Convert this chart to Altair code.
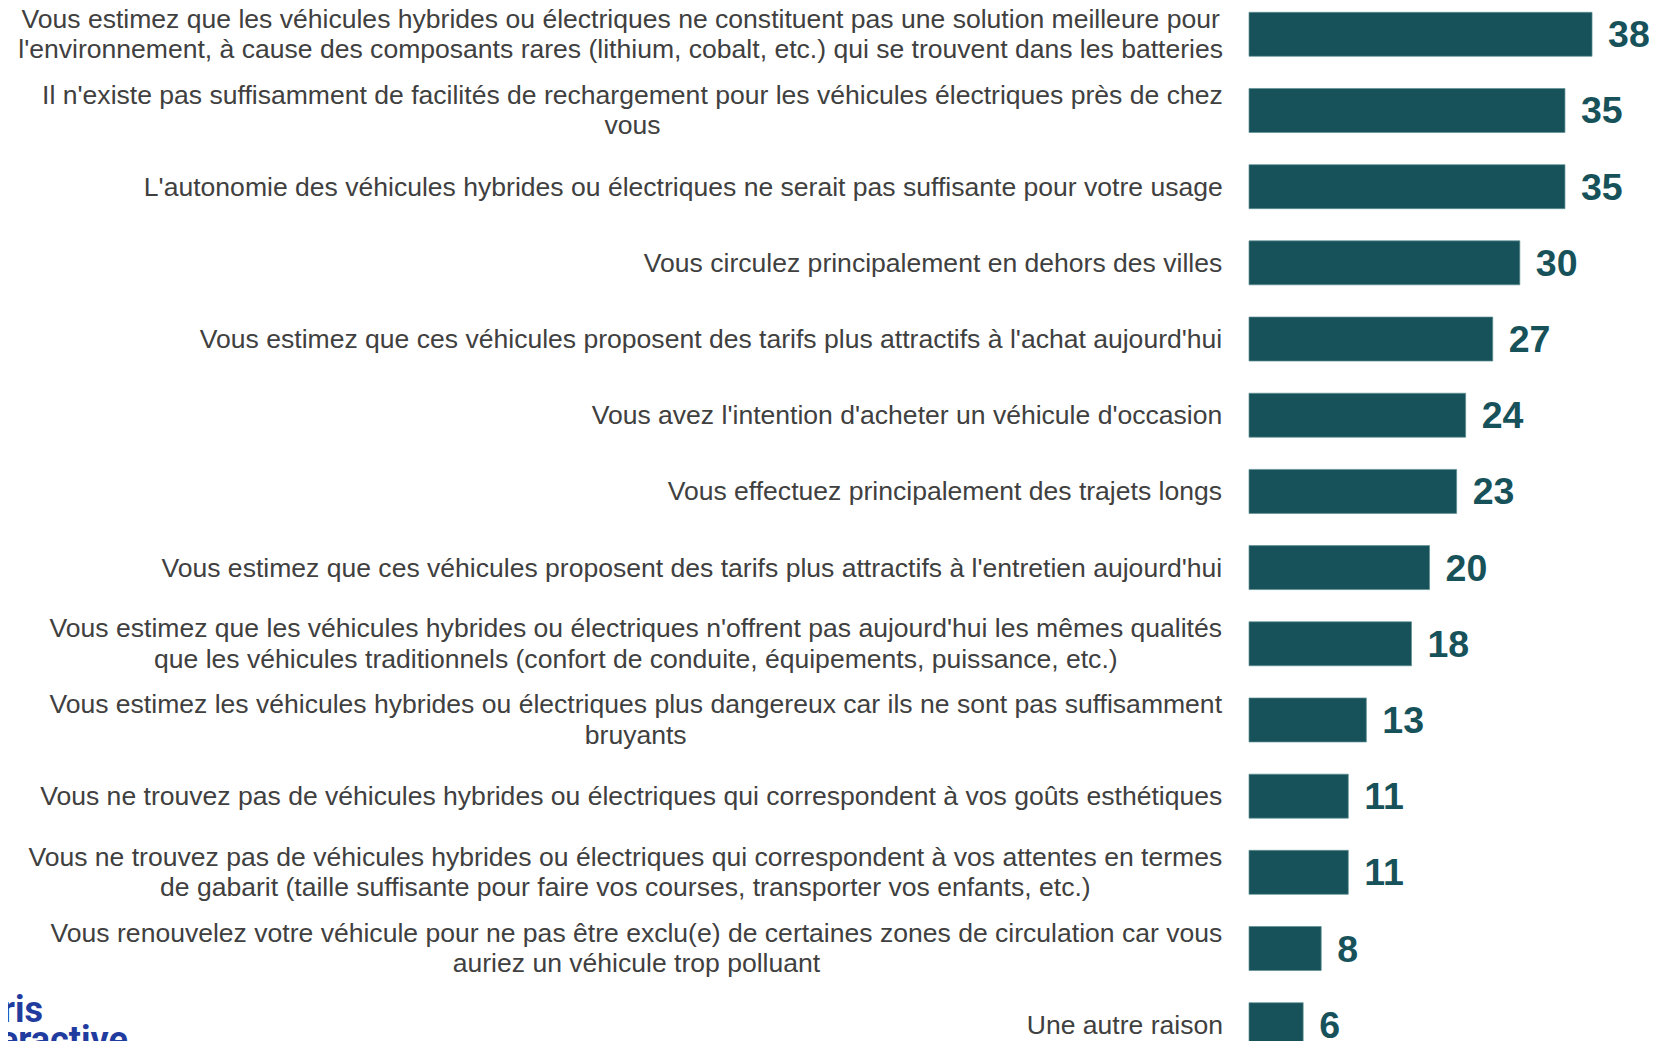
import altair as alt
import pandas as pd

# ---------------- data ----------------
categories = [
    "Vous estimez que les véhicules hybrides ou électriques ne constituent pas une solution meilleure pour\nl'environnement, à cause des composants rares (lithium, cobalt, etc.) qui se trouvent dans les batteries",
    "Il n'existe pas suffisamment de facilités de rechargement pour les véhicules électriques près de chez\nvous",
    "L'autonomie des véhicules hybrides ou électriques ne serait pas suffisante pour votre usage",
    "Vous circulez principalement en dehors des villes",
    "Vous estimez que ces véhicules proposent des tarifs plus attractifs à l'achat aujourd'hui",
    "Vous avez l'intention d'acheter un véhicule d'occasion",
    "Vous effectuez principalement des trajets longs",
    "Vous estimez que ces véhicules proposent des tarifs plus attractifs à l'entretien aujourd'hui",
    "Vous estimez que les véhicules hybrides ou électriques n'offrent pas aujourd'hui les mêmes qualités\nque les véhicules traditionnels (confort de conduite, équipements, puissance, etc.)",
    "Vous estimez les véhicules hybrides ou électriques plus dangereux car ils ne sont pas suffisamment\nbruyants",
    "Vous ne trouvez pas de véhicules hybrides ou électriques qui correspondent à vos goûts esthétiques",
    "Vous ne trouvez pas de véhicules hybrides ou électriques qui correspondent à vos attentes en termes\nde gabarit (taille suffisante pour faire vos courses, transporter vos enfants, etc.)",
    "Vous renouvelez votre véhicule pour ne pas être exclu(e) de certaines zones de circulation car vous\nauriez un véhicule trop polluant",
    "Une autre raison",
]
values = [38, 35, 35, 30, 27, 24, 23, 20, 18, 13, 11, 11, 8, 6]
logo_lines = ["Harris", "Interactive"]

# ---------------- layout constants ----------------
PAD_L = 1241           # svg is 1641 wide -> page exactly 1657 wide (no overflow)
PLOT_W = 400
PLOT_H = 1043
X_MAX = 44.31
PPU = PLOT_W / X_MAX
LABEL_FS = 26.55
LINE_H = 30.5
LABEL_GAP = 26
BAR_COLOR = "#17525A"

# Arial / Liberation Sans advance widths (per 1000 em) used to centre multi-line labels
_W = {
    "a": 556, "b": 556, "c": 500, "d": 556, "e": 556, "f": 278, "g": 556, "h": 556,
    "i": 222, "j": 222, "k": 500, "l": 222, "m": 833, "n": 556, "o": 556, "p": 556,
    "q": 556, "r": 333, "s": 500, "t": 278, "u": 556, "v": 500, "w": 722, "x": 500,
    "y": 500, "z": 500, "é": 556, "è": 556, "ê": 556, "à": 556, "â": 556, "û": 556,
    "ù": 556, "ô": 556, "î": 278, "ç": 500, " ": 278, "'": 191, "(": 333, ")": 333,
    ",": 278, ".": 278, "-": 333, "V": 667, "I": 278, "L": 556, "U": 722,
}


def text_width(s, fs=LABEL_FS):
    return max(sum(_W.get(ch, 556) for ch in line) for line in s.split("\n")) * fs / 1000


df = pd.DataFrame({"cat": categories, "value": values})
df["label_x"] = [-(LABEL_GAP + text_width(c) / 2) / PPU for c in categories]
df["nlines"] = [c.count("\n") + 1 for c in categories]

xs = alt.Scale(domain=[0, X_MAX], nice=False, zero=True)
ys = alt.Scale(paddingInner=0.4226, paddingOuter=0.0564)

base = alt.Chart(df).encode(
    y=alt.Y("cat:N", sort=None, axis=None, scale=ys)
)

bars = base.mark_bar(color=BAR_COLOR, stroke="#5f8f94", strokeWidth=0.7).encode(
    x=alt.X("value:Q", axis=None, scale=xs)
)

vals = base.mark_text(
    align="left", baseline="middle", dx=16, dy=2,
    fontSize=37.5, fontWeight="bold", font="Liberation Sans", color=BAR_COLOR,
).encode(
    x=alt.X("value:Q", axis=None, scale=xs),
    text=alt.Text("value:Q", format="d"),
)

label_props = dict(
    align="center", baseline="middle", font="Liberation Sans",
    fontSize=LABEL_FS, lineHeight=LINE_H, lineBreak="\n", color="#404040",
)
labels1 = base.mark_text(dy=1, **label_props).encode(
    x=alt.X("label_x:Q", axis=None, scale=xs),
    text="cat:N",
).transform_filter("datum.nlines == 1")

labels2 = base.mark_text(dy=-LINE_H / 2 + 0.5, **label_props).encode(
    x=alt.X("label_x:Q", axis=None, scale=xs),
    text="cat:N",
).transform_filter("datum.nlines == 2")

logo_props = dict(
    align="right", baseline="alphabetic", font="Roboto", fontWeight="bold",
    fontSize=36, color="#1F3C9E",
)
logo1 = alt.Chart(pd.DataFrame({"t": [logo_lines[0]]})).mark_text(**logo_props).encode(
    x=alt.value(-1206), y=alt.value(1014), text="t:N"
)
logo2 = alt.Chart(pd.DataFrame({"t": [logo_lines[1]]})).mark_text(**logo_props).encode(
    x=alt.value(-1121), y=alt.value(1044), text="t:N"
)

chart = alt.layer(bars, vals, labels1, labels2, logo1, logo2).properties(
    width=PLOT_W,
    height=PLOT_H,
    autosize=alt.AutoSizeParams(type="none"),
    padding={"left": PAD_L, "top": 0, "right": 0, "bottom": 0},
).configure_view(stroke=None)

chart.save("out.html", embed_options={"renderer": "svg", "actions": False})
